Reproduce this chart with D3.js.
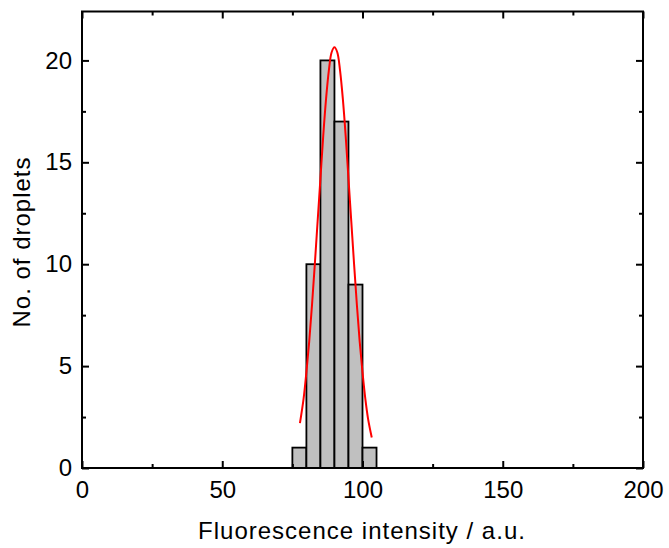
<!DOCTYPE html>
<html><head><meta charset="utf-8">
<script src="https://cdn.jsdelivr.net/npm/d3@7"></script>
<style>body{margin:0;background:#fff}svg{display:block}text{font-family:"Liberation Sans",Arial,sans-serif;fill:#000}</style>
</head><body>
<script>
// Histogram bins (lower edge, upper edge) and counts
const binStart = [75, 80, 85, 90, 95, 100];
const binEnd   = [80, 85, 90, 95, 100, 105];
const counts   = [1, 10, 20, 17, 9, 1];
// Fitted curve points
const fitX = [77.7, 79, 80, 81, 82, 83, 84, 85, 86, 87, 88, 89, 90, 91, 92, 93, 94, 95, 96, 97, 98, 99, 100, 101, 102, 103.3];
const fitY = [2.2, 3.4, 4.7, 6.2, 8.0, 10.0, 12.1, 14.2, 16.3, 18.1, 19.5, 20.4, 20.64, 20.4, 19.5, 18.1, 16.3, 14.2, 12.1, 10.0, 8.0, 6.2, 4.7, 3.4, 2.4, 1.5];
const xTicks = [0, 50, 100, 150, 200];
const xMinor = [25, 75, 125, 175];
const yTicks = [0, 5, 10, 15, 20];
const yMinor = [2.5, 7.5, 12.5, 17.5];

const W = 669, H = 548;
const L = 82, R = 643, T = 11.5, B = 468;
const svg = d3.select("body").append("svg").attr("width", W).attr("height", H);
const x = d3.scaleLinear().domain([0, 200]).range([L, R]);
const y = d3.scaleLinear().domain([0, 22.4]).range([B, T]);

// bars
svg.append("g").selectAll("rect").data(counts).join("rect")
  .attr("x", (d, i) => x(binStart[i]))
  .attr("width", (d, i) => x(binEnd[i]) - x(binStart[i]))
  .attr("y", d => y(d))
  .attr("height", d => y(0) - y(d))
  .attr("fill", "#c0c0c0").attr("stroke", "#000").attr("stroke-width", 1.8);

// fit curve
const pts = fitX.map((v, i) => [v, fitY[i]]);
svg.append("path").datum(pts)
  .attr("d", d3.line().x(d => x(d[0])).y(d => y(d[1])).curve(d3.curveCatmullRom))
  .attr("fill", "none").attr("stroke", "#ff0000").attr("stroke-width", 2);

// axes with inward ticks
function styleAxis(g) {
  g.select(".domain").remove();
  g.selectAll(".tick line").attr("stroke", "#000").attr("stroke-width", 2);
}
const fs = "24px";
// bottom
const gb = svg.append("g").attr("transform", `translate(0,${B})`)
  .call(d3.axisBottom(x).tickValues(xTicks).tickSizeInner(-7).tickSizeOuter(0).tickPadding(13).tickFormat(d3.format("d")));
styleAxis(gb); gb.attr("font-size", fs).attr("font-family", null);
svg.append("g").attr("transform", `translate(0,${B})`)
  .call(d3.axisBottom(x).tickValues(xMinor).tickSizeInner(-4).tickSizeOuter(0).tickFormat(""))
  .call(styleAxis);
// top
svg.append("g").attr("transform", `translate(0,${T})`)
  .call(d3.axisTop(x).tickValues(xTicks).tickSizeInner(-7).tickSizeOuter(0).tickFormat(""))
  .call(styleAxis);
svg.append("g").attr("transform", `translate(0,${T})`)
  .call(d3.axisTop(x).tickValues(xMinor).tickSizeInner(-4).tickSizeOuter(0).tickFormat(""))
  .call(styleAxis);
// left
const gl = svg.append("g").attr("transform", `translate(${L},0)`)
  .call(d3.axisLeft(y).tickValues(yTicks).tickSizeInner(-7).tickSizeOuter(0).tickPadding(10).tickFormat(d3.format("d")));
styleAxis(gl); gl.attr("font-size", fs).attr("font-family", null);
svg.append("g").attr("transform", `translate(${L},0)`)
  .call(d3.axisLeft(y).tickValues(yMinor).tickSizeInner(-4).tickSizeOuter(0).tickFormat(""))
  .call(styleAxis);
// right
svg.append("g").attr("transform", `translate(${R},0)`)
  .call(d3.axisRight(y).tickValues(yTicks).tickSizeInner(-7).tickSizeOuter(0).tickFormat(""))
  .call(styleAxis);
svg.append("g").attr("transform", `translate(${R},0)`)
  .call(d3.axisRight(y).tickValues(yMinor).tickSizeInner(-4).tickSizeOuter(0).tickFormat(""))
  .call(styleAxis);

// frame
svg.append("rect").attr("x", L).attr("y", T).attr("width", R - L).attr("height", B - T)
  .attr("fill", "none").attr("stroke", "#000").attr("stroke-width", 2);

// titles
svg.append("text").attr("x", 362).attr("y", 539).attr("text-anchor", "middle")
  .attr("font-size", "24px").attr("letter-spacing", "1px").text("Fluorescence intensity / a.u.");
svg.append("text").attr("transform", "translate(30,242) rotate(-90)").attr("text-anchor", "middle")
  .attr("font-size", "24px").attr("letter-spacing", "1px").text("No. of droplets");
</script>
</body></html>
